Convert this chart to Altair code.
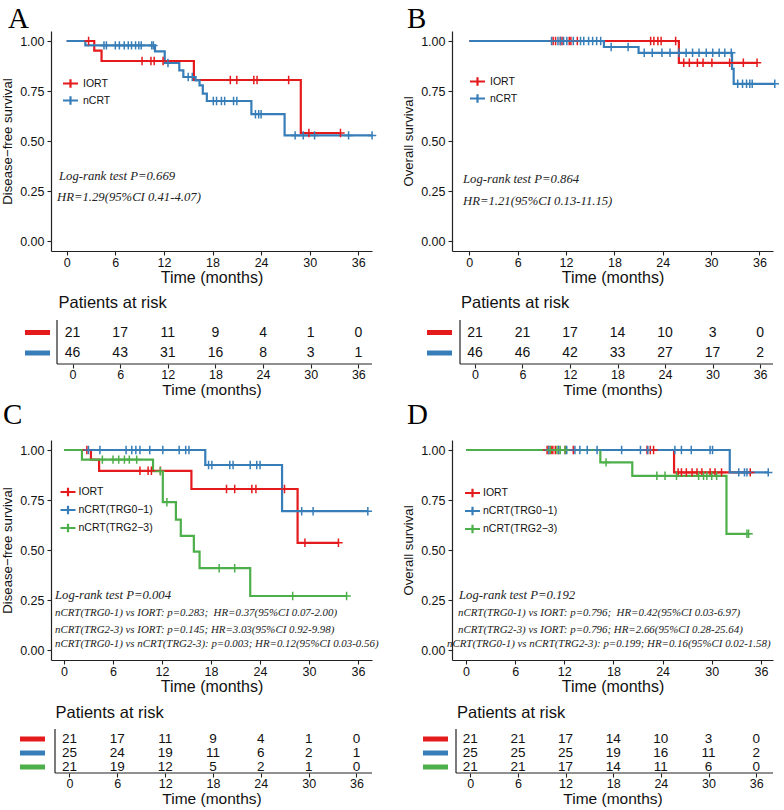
import altair as alt
import pandas as pd

RED, BLUE, GREEN = "#E41A1C", "#377EB8", "#4DAF4A"
SANS = "Liberation Sans"
SERIF = "Liberation Serif"
INK = "#111111"

MONTHS = [0, 6, 12, 18, 24, 30, 36]

# ---------------- Kaplan-Meier step curves (time in months, survival) -------------
# Panel A: disease-free survival, IORT vs nCRT
A_IORT_T = [0, 3.4, 4.3, 15.7, 28.9, 33.8]
A_IORT_S = [1.0, 0.952, 0.900, 0.805, 0.540, 0.540]
A_IORT_C = [2.7, 9.3, 10.4, 10.8, 11.9, 20.2, 21.0, 23.1, 23.5, 27.4, 29.9, 33.8]
A_NCRT_T = [0, 2.3, 10.9, 12.1, 13.9, 14.4, 15.9, 16.4, 16.8, 17.3, 22.8, 26.9, 37.7]
A_NCRT_S = [1.0, 0.978, 0.948, 0.890, 0.853, 0.820, 0.803, 0.778, 0.737, 0.700, 0.634, 0.528, 0.528]
A_NCRT_C = [4.6, 4.9, 6.0, 6.5, 7.1, 7.6, 8.0, 8.5, 8.9, 9.2, 10.5, 10.7, 12.5, 15.0, 15.5,
            18.1, 18.5, 19.1, 19.5, 20.6, 21.0, 23.3, 23.7, 24.0, 28.2, 29.2, 30.6, 34.8, 37.7]

# Panel B: overall survival, IORT vs nCRT
B_IORT_T = [0, 26.0, 35.7]
B_IORT_S = [1.0, 0.891, 0.891]
B_IORT_C = [10.4, 10.7, 11.3, 11.5, 12.4, 12.6, 13.4, 22.5, 22.9, 23.4, 23.8, 25.6,
            26.6, 27.3, 28.3, 29.0, 30.1, 32.3, 34.0, 35.7]
B_NCRT_T = [0, 16.7, 21.0, 32.6, 32.8, 37.9]
B_NCRT_S = [1.0, 0.970, 0.941, 0.861, 0.786, 0.786]
B_NCRT_C = [10.2, 11.0, 11.3, 11.7, 12.1, 12.9, 13.8, 14.2, 14.8, 15.3, 15.8, 16.3, 17.6, 19.7,
            21.7, 22.7, 23.9, 24.9, 26.0, 26.9, 27.7, 28.5, 29.4, 30.2, 31.0, 31.7, 32.5,
            33.3, 33.9, 34.4, 34.8, 35.1, 37.9]

# Panel C: disease-free survival by tumour regression grade
C_IORT_T = [0, 3.3, 4.3, 15.6, 28.6, 33.6]
C_IORT_S = [1.0, 0.952, 0.896, 0.805, 0.536, 0.536]
C_IORT_C = [2.8, 9.3, 10.3, 10.7, 11.8, 19.9, 20.9, 23.0, 23.5, 27.0, 29.5, 33.6]
C_G01_T = [0, 17.3, 26.7, 37.2]
C_G01_S = [1.0, 0.925, 0.694, 0.694]
C_G01_C = [3.0, 4.4, 7.6, 8.3, 8.8, 9.3, 10.5, 12.1, 14.1, 14.9, 15.3, 17.7, 18.1, 20.3, 20.7,
           22.8, 23.6, 24.0, 29.1, 30.5, 37.2]
C_G23_T = [0, 2.2, 10.9, 12.1, 13.7, 14.3, 15.9, 16.6, 22.8, 34.6]
C_G23_S = [1.0, 0.952, 0.894, 0.739, 0.652, 0.571, 0.492, 0.409, 0.270, 0.270]
C_G23_C = [4.7, 6.0, 6.7, 7.4, 8.0, 8.9, 11.8, 12.6, 19.0, 20.9, 28.0, 34.6]

# Panel D: overall survival by tumour regression grade
D_IORT_T = [0, 25.4, 34.7]
D_IORT_S = [1.0, 0.888, 0.888]
D_IORT_C = [9.9, 10.1, 10.4, 10.6, 10.9, 11.3, 12.1, 13.1, 22.1, 22.5, 22.9, 25.9, 26.3, 26.9,
            27.6, 28.2, 28.8, 29.8, 30.4, 31.2, 34.7]
D_G01_T = [0, 32.2, 36.9]
D_G01_S = [1.0, 0.888, 0.888]
D_G01_C = [10.1, 11.3, 12.3, 13.3, 13.9, 14.8, 16.0, 19.0, 21.3, 22.2, 25.5, 26.3, 27.5, 29.8,
           30.1, 33.3, 34.0, 34.3, 36.9]
D_G23_T = [0, 16.4, 20.3, 31.8, 34.5]
D_G23_S = [1.0, 0.938, 0.871, 0.581, 0.581]
D_G23_C = [10.3, 11.1, 11.5, 12.1, 17.1, 23.3, 24.3, 25.7, 28.4, 29.0, 29.4, 30.0, 30.6, 34.3, 34.5]

# ---------------- numbers at risk -------------
A_RISK = {"IORT": [21, 17, 11, 9, 4, 1, 0], "nCRT": [46, 43, 31, 16, 8, 3, 1]}
B_RISK = {"IORT": [21, 21, 17, 14, 10, 3, 0], "nCRT": [46, 46, 42, 33, 27, 17, 2]}
C_RISK = {"IORT": [21, 17, 11, 9, 4, 1, 0], "nCRT(TRG0−1)": [25, 24, 19, 11, 6, 2, 1],
          "nCRT(TRG2−3)": [21, 19, 12, 5, 2, 1, 0]}
D_RISK = {"IORT": [21, 21, 17, 14, 10, 3, 0], "nCRT(TRG0−1)": [25, 25, 25, 19, 16, 11, 2],
          "nCRT(TRG2−3)": [21, 21, 17, 14, 11, 6, 0]}

# ---------------- statistics printed on the panels -------------
A_NOTES = ["Log-rank test P=0.669", "HR=1.29(95%CI 0.41-4.07)"]
B_NOTES = ["Log-rank test P=0.864", "HR=1.21(95%CI 0.13-11.15)"]
C_NOTES = ["Log-rank test P=0.004",
           "nCRT(TRG0-1) vs IORT: p=0.283;\u00a0 HR=0.37(95%CI 0.07-2.00)",
           "nCRT(TRG2-3) vs IORT: p=0.145; HR=3.03(95%CI 0.92-9.98)",
           "nCRT(TRG0-1) vs nCRT(TRG2-3): p=0.003; HR=0.12(95%CI 0.03-0.56)"]
D_NOTES = ["Log-rank test P=0.192",
           "nCRT(TRG0-1) vs IORT: p=0.796;\u00a0 HR=0.42(95%CI 0.03-6.97)",
           "nCRT(TRG2-3) vs IORT: p=0.796; HR=2.66(95%CI 0.28-25.64)",
           "nCRT(TRG0-1) vs nCRT(TRG2-3): p=0.199; HR=0.16(95%CI 0.02-1.58)"]

KM_W, KM_H = 321, 220
RISK_W, RISK_H = 321, 51
CROSS = "M-1,0H1M0,-1V1"
BIG, SMALL = 12.7, 10.9


def step_at(times, surv, t):
    value = surv[0]
    for ti, si in zip(times, surv):
        if ti <= t:
            value = si
    return value


def km_panel(letter, letter_dx, letter_offset, ytitle, curves, xdomain, notes,
             legend_pos, legend_rowpad, legend_labeloffset, legend_symbol):
    labels = [c[0] for c in curves]
    colors = [c[1] for c in curves]
    line_rows, cens_rows = [], []
    for label, _, times, surv, cens in curves:
        for t, s in zip(times, surv):
            line_rows.append({"group": label, "time": t, "surv": s})
        for t in cens:
            cens_rows.append({"group": label, "time": t, "surv": step_at(times, surv, t)})
    line_df, cens_df = pd.DataFrame(line_rows), pd.DataFrame(cens_rows)

    sym_path, sym_size = legend_symbol
    cscale = alt.Scale(domain=labels, range=colors)
    x = alt.X("time:Q", scale=alt.Scale(domain=xdomain, nice=False, zero=False),
              axis=alt.Axis(values=MONTHS, title="Time (months)", labelFontSize=12.5,
                            titleFontSize=16, tickSize=4, labelPadding=1, titlePadding=1))
    y = alt.Y("surv:Q", scale=alt.Scale(domain=[-0.05, 1.05], nice=False, zero=False),
              axis=alt.Axis(values=[0, 0.25, 0.5, 0.75, 1.0], format=".2f", title=ytitle,
                            labelFontSize=12.5, titleFontSize=13.2, tickSize=4,
                            labelPadding=3, titlePadding=5))

    lines = alt.Chart(line_df).mark_line(interpolate="step-after", strokeWidth=2.2).encode(
        x=x, y=y,
        color=alt.Color("group:N", scale=cscale, sort=labels,
                        legend=alt.Legend(title=None, orient="none",
                                          legendX=legend_pos[0], legendY=legend_pos[1],
                                          symbolType=sym_path, symbolSize=sym_size,
                                          symbolStrokeWidth=2.2, labelFont=SANS,
                                          labelFontSize=10.5, labelColor=INK,
                                          rowPadding=legend_rowpad,
                                          labelOffset=legend_labeloffset, padding=0)))
    ticks = alt.Chart(cens_df).mark_point(shape=CROSS, filled=False, size=70,
                                          strokeWidth=1.5, opacity=1).encode(
        x="time:Q", y="surv:Q",
        color=alt.Color("group:N", scale=cscale, legend=None))

    layers = [lines, ticks]
    for (tx, ty, size), text in zip(notes[0], notes[1]):
        layers.append(
            alt.Chart(alt.Data(values=[{}])).mark_text(
                text=text, align="left", baseline="middle", font=SERIF,
                fontStyle="italic", fontSize=size, color="#222222").encode(
                x=alt.datum(tx), y=alt.datum(ty)))

    return alt.layer(*layers).properties(
        width=KM_W, height=KM_H,
        title=alt.Title(letter, anchor="start", frame="group", dx=letter_dx,
                        offset=letter_offset, font=SERIF, fontSize=29,
                        fontWeight="normal", color="black"))


def risk_panel(risk, colors, xdomain, rows_px, bar_x, axis_x, title_dx, title_offset,
               number_size):
    labels = list(risk.keys())
    rows = []
    for label, counts in risk.items():
        for t, n in zip(MONTHS, counts):
            rows.append({"group": label, "time": t, "n": n})
    df = pd.DataFrame(rows)
    yscale = alt.Scale(domain=labels, range=rows_px, type="point", padding=0)

    numbers = alt.Chart(df).mark_text(font=SANS, fontSize=number_size, color=INK,
                                      baseline="middle").encode(
        x=alt.X("time:Q", scale=alt.Scale(domain=xdomain, nice=False, zero=False),
                axis=alt.Axis(values=MONTHS, title="Time (months)", domain=False,
                              tickSize=4, offset=-7, labelFontSize=12.5, titleFontSize=15.5,
                              labelPadding=0, titlePadding=2)),
        y=alt.Y("group:N", scale=yscale, axis=None),
        text="n:Q")
    bars = alt.Chart(pd.DataFrame({"group": labels})).mark_rule(strokeWidth=5).encode(
        x=alt.value(bar_x[0]), x2=alt.value(bar_x[1]),
        y=alt.Y("group:N", scale=yscale, axis=None),
        color=alt.Color("group:N", scale=alt.Scale(domain=labels, range=colors), legend=None))
    vline = alt.Chart(alt.Data(values=[{}])).mark_rule(color="#222222", strokeWidth=1.2).encode(
        x=alt.value(axis_x), y=alt.value(0), y2=alt.value(RISK_H - 7))
    hline = alt.Chart(alt.Data(values=[{}])).mark_rule(color="#222222", strokeWidth=1.2).encode(
        x=alt.value(axis_x), x2=alt.value(RISK_W), y=alt.value(RISK_H - 7))

    return alt.layer(numbers, bars, vline, hline).properties(
        width=RISK_W, height=RISK_H,
        title=alt.Title("Patients at risk", anchor="start", frame="group", dx=title_dx,
                        offset=title_offset, font=SANS, fontSize=16.5,
                        fontWeight="normal", color=INK))


# legend keys: a short coloured line crossed by a censoring tick
KEY_WIDE = ("M-1.25,0H1.25M0,-0.7V0.7", 144)
KEY_TIGHT = ("M-1.6,0H1.6M0,-0.9V0.9", 88)

km_a = km_panel("A", -43, -3, "Disease−free survival",
                [("IORT", RED, A_IORT_T, A_IORT_S, A_IORT_C),
                 ("nCRT", BLUE, A_NCRT_T, A_NCRT_S, A_NCRT_C)],
                [-1.94, 37.69],
                ([(-0.95, 0.325, BIG), (-1.2, 0.22, BIG)], A_NOTES),
                (12, 45), -2, 5, KEY_WIDE)
km_b = km_panel("B", -45, -3, "Overall survival",
                [("IORT", RED, B_IORT_T, B_IORT_S, B_IORT_C),
                 ("nCRT", BLUE, B_NCRT_T, B_NCRT_S, B_NCRT_C)],
                [-2.15, 37.68],
                ([(-0.78, 0.31, BIG), (-0.78, 0.20, BIG)], B_NOTES),
                (18, 43), -2, 5, KEY_WIDE)
km_c = km_panel("C", -48, 10, "Disease−free survival",
                [("IORT", RED, C_IORT_T, C_IORT_S, C_IORT_C),
                 ("nCRT(TRG0−1)", BLUE, C_G01_T, C_G01_S, C_G01_C),
                 ("nCRT(TRG2−3)", GREEN, C_G23_T, C_G23_S, C_G23_C)],
                [-1.59, 37.71],
                ([(-1.1, 0.275, BIG), (-1.1, 0.185, SMALL), (-1.1, 0.10, SMALL),
                  (-1.1, 0.03, SMALL)], C_NOTES),
                (11, 46), 0, 4.5, KEY_TIGHT)
km_d = km_panel("D", -45, 10, "Overall survival",
                [("IORT", RED, D_IORT_T, D_IORT_S, D_IORT_C),
                 ("nCRT(TRG0−1)", BLUE, D_G01_T, D_G01_S, D_G01_C),
                 ("nCRT(TRG2−3)", GREEN, D_G23_T, D_G23_S, D_G23_C)],
                [-1.71, 37.48],
                ([(-0.85, 0.275, BIG), (-0.98, 0.185, SMALL), (-0.98, 0.10, SMALL),
                  (-2.32, 0.03, SMALL)], D_NOTES),
                (14.5, 47), 0, 4.5, KEY_TIGHT)

risk_a = risk_panel(A_RISK, [RED, BLUE], [-2.71, 37.72], [12.5, 33], (-26, -1), 6, 7.5, 8, 14)
risk_b = risk_panel(B_RISK, [RED, BLUE], [-2.9, 37.63], [12.5, 33], (-25, 0), 8, 9, 8, 14)
risk_c = risk_panel(C_RISK, [RED, BLUE, GREEN], [-2.32, 37.95], [10, 38], (-31, -6), 4, 4.5, 7, 13.5)
risk_d = risk_panel(D_RISK, [RED, BLUE, GREEN], [-2.3, 38.12], [10, 38], (-29, -4), 4, 5, 7, 13.5)

chart = alt.concat(
    km_a, km_b, risk_a, risk_b, km_c, km_d, risk_c, risk_d,
    columns=2, spacing={"row": 69, "column": 80}, bounds="flush", align="each",
).resolve_scale(
    x="independent", y="independent", color="independent",
).resolve_legend(
    color="independent",
).properties(
    padding={"left": 0, "top": 5, "right": 0, "bottom": 0},
    background="white",
).configure_view(stroke=None).configure_axis(
    grid=False, domainColor="#222222", tickColor="#222222", domainWidth=1.2, tickWidth=1.1,
    labelColor=INK, titleColor=INK, labelFont=SANS, titleFont=SANS, titleFontWeight="normal",
)

chart.save("out.html", embed_options={"renderer": "svg", "actions": False})
